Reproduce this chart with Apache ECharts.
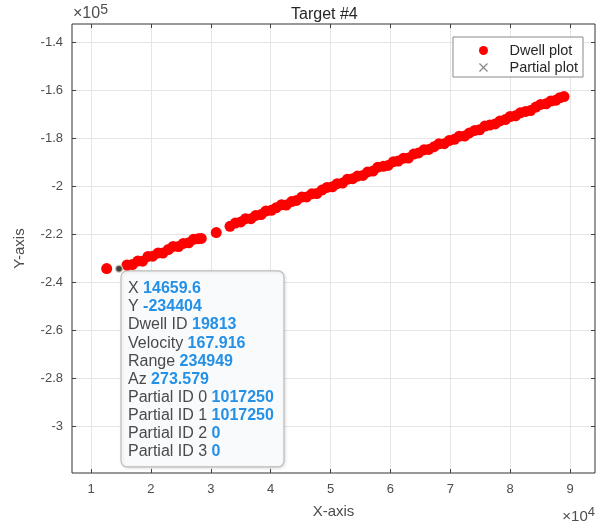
<!DOCTYPE html>
<html><head><meta charset="utf-8">
<script src="https://cdn.jsdelivr.net/npm/echarts@6/dist/echarts.min.js"></script>
<style>html,body{margin:0;padding:0;background:#fff;}#c{width:604px;height:526px;}</style>
</head><body><div id="c"></div>
<script>
// ---- data ----
const titleText = 'Target #4';
const xTicks = [10000, 20000, 30000, 40000, 50000, 60000, 70000, 80000, 90000];
const yTicks = [-300000, -280000, -260000, -240000, -220000, -200000, -180000, -160000, -140000];
const dwellX = [12600, 16000, 16900, 17800, 18600, 19500, 20300, 21200, 22000, 22900, 23700, 24600, 25400, 26300, 27100, 27900, 28400,
  30900,
  33200, 34100, 35000, 35800, 36700, 37500, 38400, 39200, 40100, 40900, 41800, 42600, 43500, 44300, 45200, 46000, 46900, 47700, 48600, 49400,
  50300, 51100, 52000, 52800, 53700, 54500, 55400, 56200, 57100, 57900, 58800, 59600, 60500, 61300, 62200, 63000, 63900, 64700, 65600, 66400,
  67300, 68100, 69000, 69800, 70700, 71500, 72400, 73200, 74100, 74900, 75800, 76600, 77500, 78300, 79200, 80000, 80900, 81700, 82600, 83400,
  84300, 85100, 86000, 86800, 87600, 88300, 89000];
const dwellY = [-234300, -232812, -232644, -231177, -231206, -229238, -229167, -227799, -227828, -226360, -225089, -225122, -223850, -223583, -222112, -221840, -221758,
  -219300,
  -216731, -215364, -214896, -213525, -213557, -212186, -211818, -210347, -210080, -209008, -207741, -207870, -206402, -205931, -204563, -204492, -203124, -203053, -201586, -200514,
  -200247, -198976, -198708, -197137, -196869, -195798, -195530, -194059, -193692, -192120, -191753, -191382, -189814, -189543, -188375, -188304, -186636, -186165, -184898, -184726,
  -183559, -182388, -182320, -181049, -180481, -179210, -179142, -177871, -176804, -176532, -174965, -174594, -174126, -172855, -172287, -171016, -170748, -169477, -168910, -168538,
  -167071, -166000, -165732, -164561, -164290, -163215, -162740];
const partialX = [];
const partialY = [];
const tipPoint = [14659.6, -234404];
const tipLabels = ['X', 'Y', 'Dwell ID', 'Velocity', 'Range', 'Az', 'Partial ID 0', 'Partial ID 1', 'Partial ID 2', 'Partial ID 3'];
const tipValues = ['14659.6', '-234404', '19813', '167.916', '234949', '273.579', '1017250', '1017250', '0', '0'];
const xRange = [6807, 94176];
const yRange = [-319380, -132516];

// ---- chart ----
const FONT = 'Arial, "Liberation Sans", sans-serif';
const chart = echarts.init(document.getElementById('c'), null, {renderer: 'canvas'});
const dwell = dwellX.map((x, i) => [x, dwellY[i]]);
const partial = partialX.map((x, i) => [x, partialY[i]]);
const gridCommon = {left: 72, top: 24, right: 9, bottom: 53};

function xAxisDef(pos, showLabel) {
  return {
    type: 'value', position: pos, min: xRange[0], max: xRange[1],
    axisLine: {show: false},
    axisTick: {show: true, inside: true, length: 4, lineStyle: {color: '#404040'}, customValues: xTicks},
    axisLabel: {show: showLabel, customValues: xTicks, color: '#4d4d4d', fontSize: 13, fontFamily: FONT, margin: 10,
      formatter: v => String(Math.round(v / 1000) / 10)},
    splitLine: {show: showLabel, lineStyle: {color: '#e5e5e5', width: 1}},
    name: showLabel ? 'X-axis' : '', nameLocation: 'middle', nameGap: 31,
    nameTextStyle: {color: '#4d4d4d', fontSize: 15, fontFamily: FONT}
  };
}
function yAxisDef(pos, showLabel) {
  return {
    type: 'value', position: pos, min: yRange[0], max: yRange[1],
    axisLine: {show: false},
    axisTick: {show: true, inside: true, length: 4, lineStyle: {color: '#404040'}, customValues: yTicks},
    axisLabel: {show: showLabel, customValues: yTicks, color: '#4d4d4d', fontSize: 13, fontFamily: FONT, margin: 9,
      formatter: v => String(Math.round(v / 10000) / 10)},
    splitLine: {show: showLabel, lineStyle: {color: '#e5e5e5', width: 1}},
    name: showLabel ? 'Y-axis' : '', nameLocation: 'middle', nameGap: 45, nameRotate: 90,
    nameTextStyle: {color: '#4d4d4d', fontSize: 15, fontFamily: FONT}
  };
}

const option = {
  animation: false,
  backgroundColor: '#ffffff',
  title: {text: titleText, left: 286, top: 2,
    textStyle: {color: '#262626', fontSize: 16, fontWeight: 'normal', fontFamily: FONT}},
  grid: Object.assign({show: true, borderColor: '#333333', borderWidth: 1, backgroundColor: 'transparent'}, gridCommon),
  xAxis: [xAxisDef('bottom', true), xAxisDef('top', false)],
  yAxis: [yAxisDef('left', true), yAxisDef('right', false)],
  legend: {
    orient: 'vertical', right: 21, top: 37,
    backgroundColor: '#ffffff', borderColor: '#8a8a8a', borderWidth: 1, borderRadius: 0,
    padding: [6, 5, 2, 26], itemGap: 2, itemWidth: 42, itemHeight: 9,
    textStyle: {color: '#262626', fontSize: 14.5, fontFamily: FONT},
    data: ['Dwell plot', 'Partial plot']
  },
  series: [
    {name: 'Dwell plot', type: 'scatter', data: dwell, symbol: 'circle', symbolSize: 11,
      itemStyle: {color: '#ff0000', opacity: 1}, xAxisIndex: 0, yAxisIndex: 0, z: 3},
    {name: 'Partial plot', type: 'scatter', data: partial, symbol: 'path://M0,1L1,0L5,4L9,0L10,1L6,5L10,9L9,10L5,6L1,10L0,9L4,5Z',
      symbolSize: 7, itemStyle: {color: '#6b6b6b'}, xAxisIndex: 0, yAxisIndex: 0, z: 4},
    {name: 'tip', type: 'scatter', data: [tipPoint], symbol: 'circle', symbolSize: 7,
      itemStyle: {color: '#111111', borderColor: '#d8cfb8', borderWidth: 1.5}, xAxisIndex: 0, yAxisIndex: 0, z: 5}
  ]
};
chart.setOption(option);

// data tip box + exponent labels
const p = chart.convertToPixel({gridIndex: 0}, tipPoint);
const tipText = tipLabels.map((l, i) => '{l|' + l + '} {v|' + tipValues[i] + '}').join('\n');
chart.setOption({
  graphic: [
    {type: 'group', x: p[0] + 2, y: p[1] + 2, z: 100, children: [
      {type: 'rect', shape: {x: 0, y: 0, width: 163, height: 196, r: 6},
        style: {fill: 'rgba(250,251,253,0.96)', stroke: '#bdbdbd', lineWidth: 1.2,
          shadowBlur: 3, shadowColor: 'rgba(0,0,0,0.12)', shadowOffsetX: 1, shadowOffsetY: 1}},
      {type: 'text', x: 7, y: 9, style: {text: tipText, fontFamily: FONT, fontSize: 16, lineHeight: 18.1,
        fill: '#505050',
        rich: {
          l: {fontSize: 16, fontFamily: FONT, fill: '#4a4a4a', lineHeight: 18.1},
          v: {fontSize: 16, fontFamily: FONT, fill: '#2490e6', fontWeight: 'bold', lineHeight: 18.1}
        }}}
    ]},
    {type: 'text', x: 73, y: 3, z: 100, style: {text: '×10{s|5}', fontFamily: FONT, fontSize: 16, fill: '#4d4d4d',
      rich: {s: {fontSize: 14, fontFamily: FONT, fill: '#4d4d4d', verticalAlign: 'top', padding: [0, 0, 8, 0]}}}},
    {type: 'text', right: 9, top: 506, z: 100, style: {text: '×10{s|4}', fontFamily: FONT, fontSize: 15, fill: '#4d4d4d',
      rich: {s: {fontSize: 13, fontFamily: FONT, fill: '#4d4d4d', verticalAlign: 'top', padding: [0, 0, 8, 0]}}}}
  ]
});
</script></body></html>
